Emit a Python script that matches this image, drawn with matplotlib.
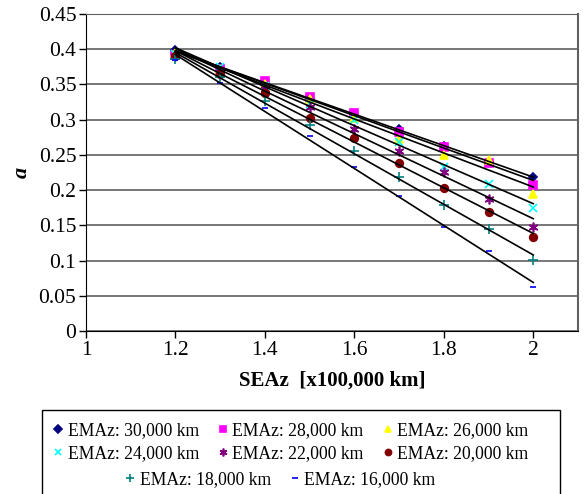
import numpy as np
import matplotlib
matplotlib.use('Agg')
import matplotlib.pyplot as plt
from matplotlib.patches import Rectangle

plt.rcParams['font.family'] = ['Liberation Serif', 'DejaVu Serif']

# SEAz values (x100,000 km)
seaz = [1.2, 1.3, 1.4, 1.5, 1.6, 1.7, 1.8, 1.9, 2.0]

labels = ['EMAz: 30,000 km', 'EMAz: 28,000 km', 'EMAz: 26,000 km', 'EMAz: 24,000 km',
          'EMAz: 22,000 km', 'EMAz: 20,000 km', 'EMAz: 18,000 km', 'EMAz: 16,000 km']

a_30k = [0.398, 0.375, 0.350, 0.330, 0.308, 0.287, 0.262, 0.240, 0.219]
a_28k = [0.392, 0.372, 0.355, 0.332, 0.310, 0.283, 0.261, 0.238, 0.207]
a_26k = [0.395, 0.372, 0.350, 0.329, 0.302, 0.272, 0.250, 0.242, 0.195]
a_24k = [0.393, 0.375, 0.348, 0.322, 0.300, 0.268, 0.232, 0.208, 0.175]
a_22k = [0.390, 0.368, 0.343, 0.318, 0.286, 0.255, 0.225, 0.187, 0.148]
a_20k = [0.390, 0.365, 0.337, 0.302, 0.274, 0.238, 0.203, 0.169, 0.134]
a_18k = [0.386, 0.360, 0.326, 0.292, 0.256, 0.218, 0.179, 0.145, 0.101]
a_16k = [0.384, 0.352, 0.316, 0.276, 0.232, 0.192, 0.148, 0.113, 0.062]

series = [a_30k, a_28k, a_26k, a_24k, a_22k, a_20k, a_18k, a_16k]
markers = ['D', 's', '^', 'x', (6, 2, 0), 'o', '+', '_']
colors = ['#000080', '#FF00FF', '#FFFF00', '#00FFFF', '#800080', '#800000', '#008080', '#0000FF']
sizes = [4.5, 5.5, 6, 6, 7, 5.5, 6.5, 5]

fig = plt.figure(figsize=(5.85, 4.94), dpi=100)
ax = fig.add_axes([0.147, 0.330, 0.841, 0.642])

handles = []
for vals, m, c, s in zip(series, markers, colors, sizes):
    h, = ax.plot(seaz, vals, linestyle='none', marker=m, color=c, markersize=s,
                 markeredgewidth=1.2, zorder=3)
    handles.append(h)
    # linear trendline
    k, b = np.polyfit(seaz, vals, 1)
    xs = np.array([seaz[0], seaz[-1]])
    ax.plot(xs, k * xs + b, color='black', lw=1.2, zorder=4)

ax.set_xlim(1, 2.1)
ax.set_ylim(0, 0.45)
ax.set_xticks([1, 1.2, 1.4, 1.6, 1.8, 2])
ax.set_xticklabels(['1', '1.2', '1.4', '1.6', '1.8', '2'])
ax.set_yticks(np.arange(0, 0.451, 0.05))
ax.set_yticklabels(['0', '0.05', '0.1', '0.15', '0.2', '0.25', '0.3', '0.35', '0.4', '0.45'])
ax.tick_params(direction='out', length=5, width=1, labelsize=15.5, pad=2)
ax.grid(axis='y', color='#606060', lw=1.2)
ax.set_axisbelow(True)
ax.spines['top'].set_color('#606060')
ax.spines['right'].set_color('#606060')
ax.spines['right'].set_linewidth(1.5)

ax.set_xlabel('SEAz  [x100,000 km]', fontsize=15, fontweight='bold', labelpad=8)
ax.set_ylabel('a', fontsize=16, fontweight='bold', style='italic', labelpad=5)

# legend frame below plot
fig.patches.append(Rectangle((42 / 585, -0.05), 518 / 585, (494 - 410) / 494 + 0.05,
                             transform=fig.transFigure, fill=False, edgecolor='black', lw=1))

leg_kw = dict(loc='center', frameon=False, fontsize=12.7, handlelength=0.7,
              handletextpad=0.2, columnspacing=1.0, borderpad=0, markerscale=0.8)
order1 = [0, 3, 1, 4, 2, 5]
fig.legend([handles[i] for i in order1], [labels[i] for i in order1], ncol=3,
           bbox_to_anchor=(0.496, (494 - 442) / 494), labelspacing=0.35, **leg_kw)
fig.legend([handles[6], handles[7]], [labels[6], labels[7]], ncol=2,
           bbox_to_anchor=(0.478, (494 - 480) / 494), **leg_kw)

fig.savefig('out.png', dpi=100)
